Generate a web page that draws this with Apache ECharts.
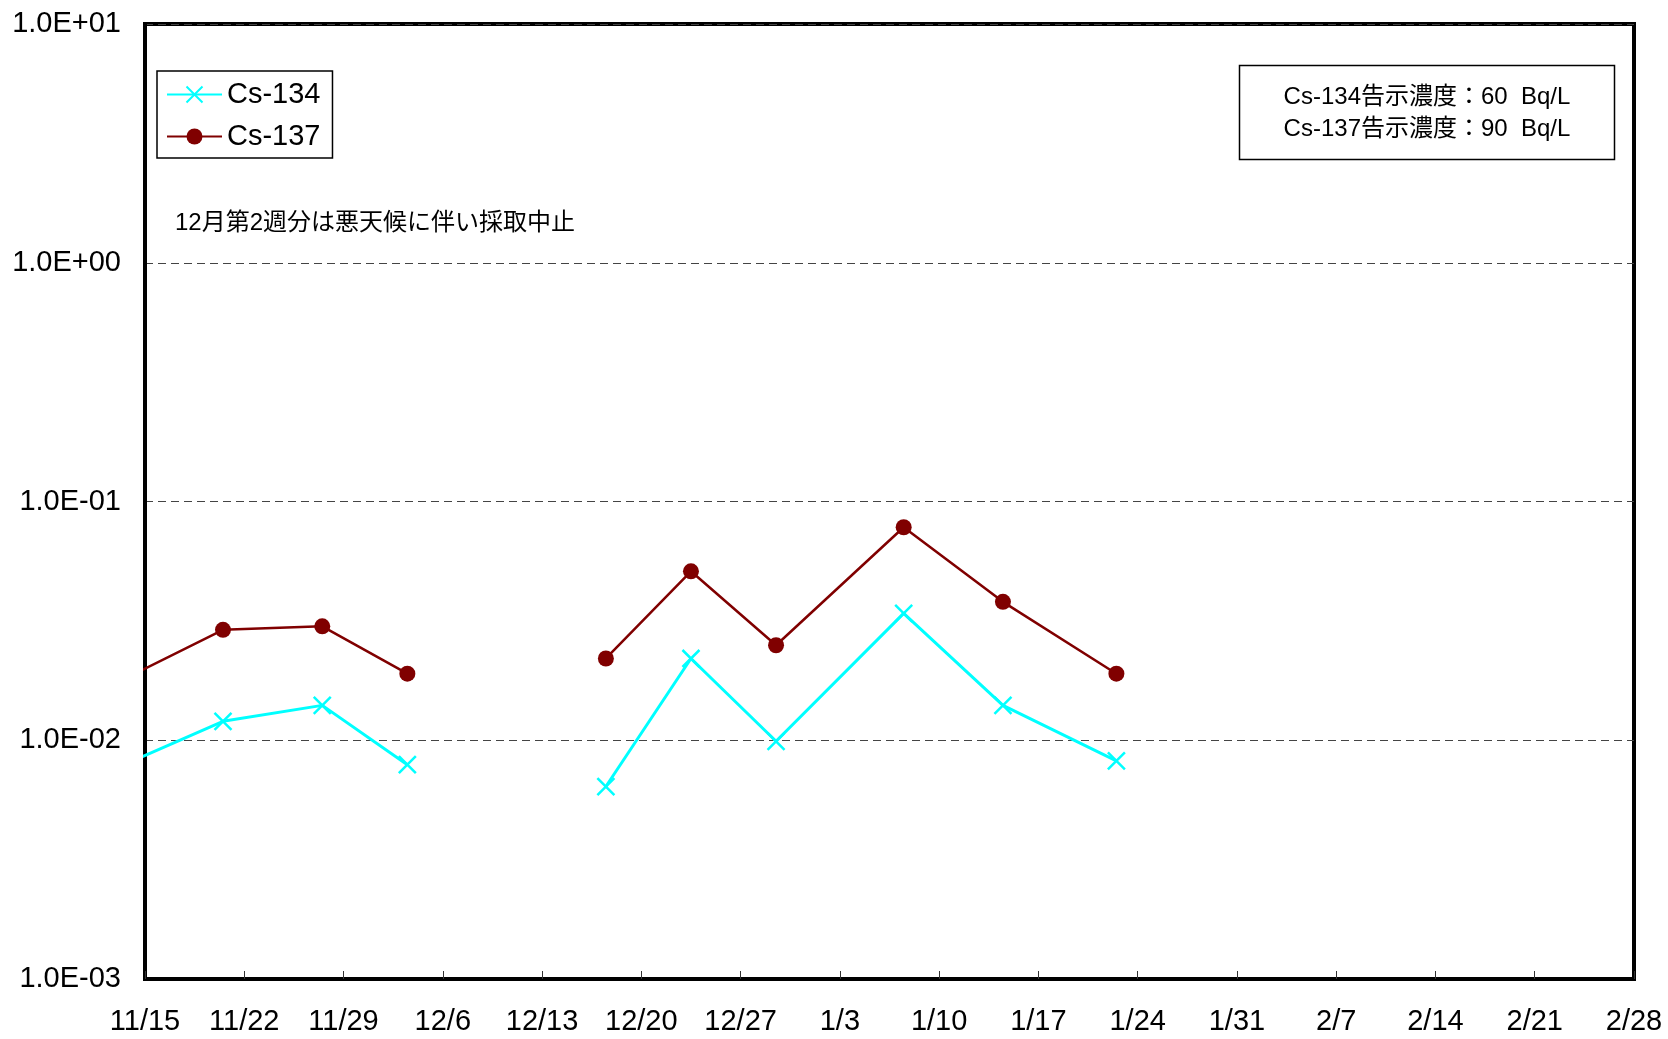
<!DOCTYPE html>
<html>
<head>
<meta charset="utf-8">
<title>Cs-134 / Cs-137</title>
<script src="https://cdn.jsdelivr.net/npm/echarts@6/dist/echarts.min.js"></script>
<style>
  html, body { margin: 0; padding: 0; background: #fff; }
  #chart { width: 1668px; height: 1039px; }
</style>
</head>
<body>
<div id="chart"></div>
<script>
// Sampling dates (weekly); the 12/10 week was not sampled
const startDate = '2013-11-15';
const sampleDates = ['2013-11-13', '2013-11-20', '2013-11-27', '2013-12-03', '2013-12-10',
  '2013-12-17', '2013-12-23', '2013-12-29', '2014-01-07', '2014-01-14', '2014-01-22'];
// Concentrations in Bq/L (null = not sampled)
const cs134 = [0.0079, 0.012, 0.014, 0.0079, null, 0.0064, 0.022, 0.0099, 0.034, 0.014, 0.0082];
const cs137 = [0.018, 0.029, 0.030, 0.019, null, 0.022, 0.051, 0.025, 0.078, 0.038, 0.019];

const xTickLabels = ['11/15', '11/22', '11/29', '12/6', '12/13', '12/20', '12/27', '1/3',
  '1/10', '1/17', '1/24', '1/31', '2/7', '2/14', '2/21', '2/28'];
const yTickLabels = ['1.0E-03', '1.0E-02', '1.0E-01', '1.0E+00', '1.0E+01'];

const noteText = '12月第2週分は悪天候に伴い採取中止';
const limitLines = ['Cs-134告示濃度：60  Bq/L', 'Cs-137告示濃度：90  Bq/L'];

const FONT = "'Liberation Sans', Arial, 'Noto Sans CJK JP', sans-serif";
const DAY = 86400000;
const WEEK_DAYS = 7;

// x position in days after the first axis date, placed at mid-day
function dayOffset(d) {
  return (Date.parse(d) - Date.parse(startDate)) / DAY + 0.5;
}
function toSeries(values) {
  return sampleDates.map((d, i) => [dayOffset(d), values[i] == null ? '-' : values[i]]);
}

const chart = echarts.init(document.getElementById('chart'), null, { renderer: 'canvas' });

chart.setOption({
  backgroundColor: '#fff',
  animation: false,
  grid: {
    left: 145, right: 34, top: 24, bottom: 60,
    show: true,
    borderColor: '#000',
    borderWidth: 4,
    backgroundColor: 'transparent'
  },
  legend: {
    orient: 'vertical',
    left: 157,
    top: 71,
    itemWidth: 55,
    itemHeight: 20,
    itemGap: 13,
    padding: [9, 12, 7, 9],
    borderColor: '#000',
    borderWidth: 1.5,
    backgroundColor: '#fff',
    textStyle: { fontSize: 29, color: '#000', fontFamily: FONT },
    data: ['Cs-134', 'Cs-137']
  },
  xAxis: {
    type: 'value',
    min: 0,
    max: (xTickLabels.length - 1) * WEEK_DAYS,
    interval: WEEK_DAYS,
    axisLine: { show: true, lineStyle: { color: '#000', width: 4 } },
    axisTick: { show: true, inside: true, length: 8, lineStyle: { color: '#333', width: 1 } },
    splitLine: { show: false },
    axisLabel: {
      margin: 28,
      fontSize: 29,
      color: '#000',
      fontFamily: FONT,
      showMinLabel: true,
      showMaxLabel: true,
      formatter: v => xTickLabels[Math.round(v / WEEK_DAYS)] || ''
    }
  },
  yAxis: {
    type: 'log',
    logBase: 10,
    min: 0.001,
    max: 10,
    axisLine: { show: true, lineStyle: { color: '#000', width: 4 } },
    axisTick: { show: false },
    splitLine: { show: true, lineStyle: { color: '#444', width: 1.2, type: [8, 5] } },
    axisLabel: {
      margin: 24,
      fontSize: 29,
      color: '#000',
      fontFamily: FONT,
      showMinLabel: true,
      showMaxLabel: true,
      formatter: v => yTickLabels[Math.round(Math.log10(v)) + 3] || ''
    }
  },
  series: [
    {
      name: 'Cs-134',
      type: 'line',
      data: toSeries(cs134),
      connectNulls: false,
      clip: true,
      symbol: 'path://M0,0L10,10M10,0L0,10',
      symbolSize: 17,
      itemStyle: { color: 'rgba(0,0,0,0)', borderColor: '#00FFFF', borderWidth: 2.5 },
      lineStyle: { color: '#00FFFF', width: 3 },
      z: 3
    },
    {
      name: 'Cs-137',
      type: 'line',
      data: toSeries(cs137),
      connectNulls: false,
      clip: true,
      symbol: 'circle',
      symbolSize: 16,
      itemStyle: { color: '#800000' },
      lineStyle: { color: '#800000', width: 2.5 },
      z: 4
    }
  ],
  graphic: [
    {
      type: 'text',
      x: 175,
      y: 223,
      style: {
        text: noteText,
        font: '24px ' + FONT,
        fill: '#000',
        verticalAlign: 'middle'
      }
    },
    {
      type: 'rect',
      shape: { x: 1239.5, y: 65.5, width: 375, height: 94 },
      style: { fill: '#fff', stroke: '#000', lineWidth: 1.5 }
    },
    {
      type: 'text',
      x: 1427,
      y: 97,
      style: {
        text: limitLines[0],
        font: '24px ' + FONT,
        fill: '#000',
        align: 'center',
        verticalAlign: 'middle'
      }
    },
    {
      type: 'text',
      x: 1427,
      y: 129,
      style: {
        text: limitLines[1],
        font: '24px ' + FONT,
        fill: '#000',
        align: 'center',
        verticalAlign: 'middle'
      }
    }
  ]
});
</script>
</body>
</html>
